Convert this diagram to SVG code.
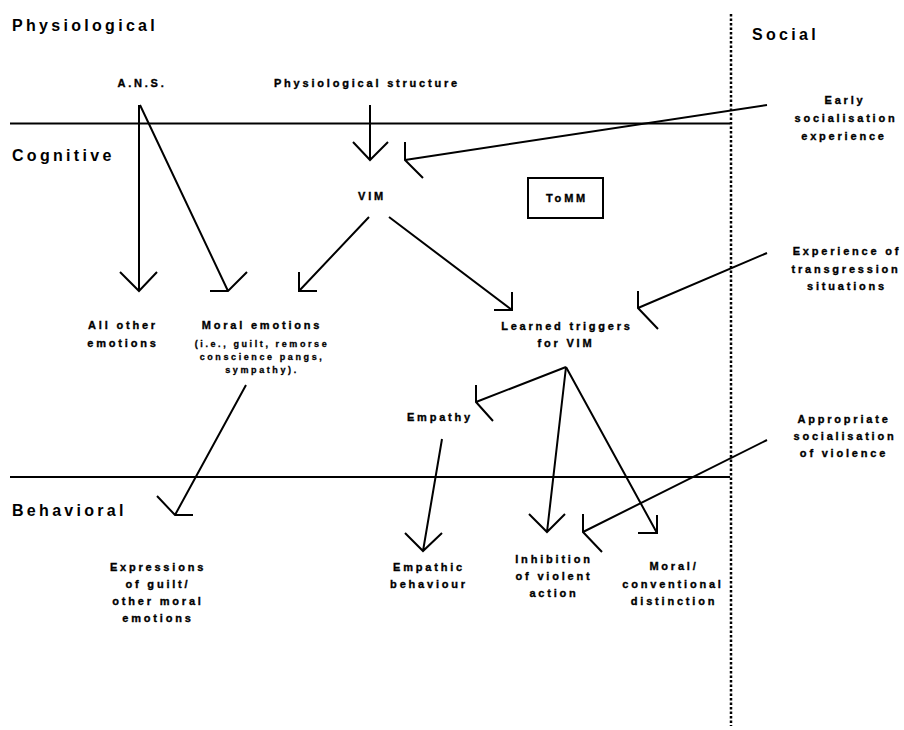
<svg xmlns="http://www.w3.org/2000/svg" width="904" height="730" viewBox="0 0 904 730">
<style>
text{font-family:"Liberation Sans",Arial,sans-serif;font-weight:bold;fill:#000}
.hdr{font-size:16px;letter-spacing:3.3px}
.lbl{font-size:11px;letter-spacing:2.8px;text-anchor:middle;stroke:#000;stroke-width:0.35px}
.sub{font-size:9px;letter-spacing:2.6px;text-anchor:middle;stroke:#000;stroke-width:0.3px}
.ln{stroke:#000;stroke-width:2;fill:none}
.dot{stroke:#000;stroke-width:2.5;fill:none;stroke-dasharray:2.5 2}
</style>
<rect width="904" height="730" fill="#fff"/>
<g id="layers">
<line class="ln" x1="10" y1="123.5" x2="730" y2="123.5"/>
<line class="ln" x1="10" y1="477" x2="730" y2="477"/>
<line class="dot" x1="731" y1="14" x2="731" y2="726"/>
</g>
<g id="layer-labels">
<text class="hdr" x="12" y="31">Physiological</text>
<text class="hdr" x="12" y="161">Cognitive</text>
<text class="hdr" x="12" y="516">Behavioral</text>
<text class="hdr" x="752" y="40">Social</text>
</g>
<g id="ans"><text class="lbl" x="142" y="87">A.N.S.</text></g>
<g id="physstruct"><text class="lbl" x="367" y="87">Physiological structure</text></g>
<g id="early"><text class="lbl" x="845" y="104">Early</text><text class="lbl" x="846" y="122">socialisation</text><text class="lbl" x="844" y="140">experience</text></g>
<g id="tomm"><rect x="528" y="178" width="75" height="40" fill="none" stroke="#000" stroke-width="2"/><text class="lbl" x="567" y="202">ToMM</text></g>
<g id="vim"><text class="lbl" x="372" y="200">VIM</text></g>
<g id="allother"><text class="lbl" x="123" y="329">All other</text><text class="lbl" x="123" y="347">emotions</text></g>
<g id="moral"><text class="lbl" x="262" y="329">Moral emotions</text><text class="sub" x="262" y="347">(i.e., guilt, remorse</text><text class="sub" x="262" y="360">conscience pangs,</text><text class="sub" x="262" y="373">sympathy).</text></g>
<g id="learned"><text class="lbl" x="567" y="330">Learned triggers</text><text class="lbl" x="566" y="347">for VIM</text></g>
<g id="transgression"><text class="lbl" x="847" y="255">Experience of</text><text class="lbl" x="846" y="273">transgression</text><text class="lbl" x="847" y="290">situations</text></g>
<g id="empathy"><text class="lbl" x="440" y="421">Empathy</text></g>
<g id="appropriate"><text class="lbl" x="844" y="423">Appropriate</text><text class="lbl" x="845" y="440">socialisation</text><text class="lbl" x="844" y="457">of violence</text></g>
<g id="expressions"><text class="lbl" x="158" y="571">Expressions</text><text class="lbl" x="158" y="588">of guilt/</text><text class="lbl" x="158" y="605">other moral</text><text class="lbl" x="158" y="622">emotions</text></g>
<g id="empathic"><text class="lbl" x="429" y="571">Empathic</text><text class="lbl" x="429" y="588">behaviour</text></g>
<g id="inhibition"><text class="lbl" x="554" y="563">Inhibition</text><text class="lbl" x="554" y="580">of violent</text><text class="lbl" x="554" y="597">action</text></g>
<g id="moralconv"><text class="lbl" x="674" y="570">Moral/</text><text class="lbl" x="673" y="588">conventional</text><text class="lbl" x="674" y="605">distinction</text></g>
<g id="connectors" class="ln">
<path class="ln" d="M139,105 L139,291 M120,272 L139,291 L157,272"/>
<path class="ln" d="M140,105 L228,291 M210,291 L228,291 L247,272"/>
<path class="ln" d="M370,105 L370,160 M353,142 L370,160 L388,142"/>
<path class="ln" d="M767,105 L405,160 M405,142 L405,160 L423,178"/>
<path class="ln" d="M369,217 L299,291 M299,272 L299,291 L317,291"/>
<path class="ln" d="M389,217 L512,310 M494,310 L512,310 L512,292"/>
<path class="ln" d="M767,253 L638,308 M638,291 L638,308 L658,329"/>
<path class="ln" d="M566,367 L476,402 M476,385 L476,402 L493,421"/>
<path class="ln" d="M566,367 L547,532 M529,514 L547,532 L565,514"/>
<path class="ln" d="M566,367 L657,533 M638,533 L657,533 L657,515"/>
<path class="ln" d="M767,440 L583,532 M583,514 L583,532 L602,552"/>
<path class="ln" d="M246,385 L175,515 M157,496 L175,515 L193,515"/>
<path class="ln" d="M442,439 L423,551 M405,533 L423,551 L442,533"/>
</g>
</svg>
